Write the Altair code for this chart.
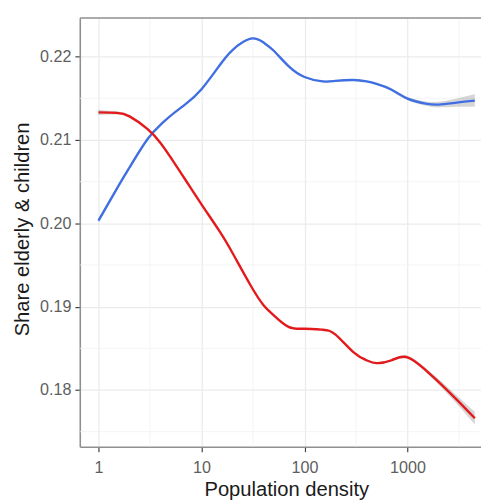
import altair as alt
import pandas as pd

# ---- data ----
density = [1, 1.5, 2, 3, 4, 5, 7, 10, 15, 20, 30, 40, 50, 70, 100, 150, 200,
           300, 400, 500, 700, 1000, 1500, 2000, 3000, 4500]
blue_share = [0.20033, 0.20411, 0.20670, 0.21012, 0.21183, 0.21290, 0.21431,
              0.21610, 0.21897, 0.22080, 0.22216, 0.22169, 0.22074, 0.21886,
              0.21756, 0.21703, 0.21709, 0.21720, 0.21703, 0.21673, 0.21603,
              0.21496, 0.21437, 0.21425, 0.21449, 0.21473]
blue_se = [0.00030, 0.00020, 0.00015, 0.00012, 0.00010, 0.00010, 0.00010,
           0.00010, 0.00010, 0.00010, 0.00010, 0.00010, 0.00010, 0.00010,
           0.00010, 0.00010, 0.00010, 0.00010, 0.00011, 0.00012, 0.00015,
           0.00019, 0.00026, 0.00034, 0.00050, 0.00075]
red_share = [0.21331, 0.21325, 0.21284, 0.21130, 0.20965, 0.20794, 0.20520,
             0.20228, 0.19903, 0.19644, 0.19254, 0.19018, 0.18900, 0.18758,
             0.18735, 0.18723, 0.18664, 0.18451, 0.18357, 0.18322, 0.18357,
             0.18393, 0.18239, 0.18098, 0.17885, 0.17661]
red_se = [0.00030, 0.00020, 0.00015, 0.00012, 0.00010, 0.00010, 0.00010,
          0.00010, 0.00010, 0.00010, 0.00010, 0.00010, 0.00010, 0.00010,
          0.00010, 0.00010, 0.00010, 0.00010, 0.00011, 0.00012, 0.00015,
          0.00019, 0.00026, 0.00034, 0.00050, 0.00075]
series_names = ["children", "elderly"]
series_colors = ["#3f6fe2", "#e3191c"]

x_major = [1, 10, 100, 1000]
x_minor = [3.1623, 31.623, 316.23, 3162.3]
y_major = [0.18, 0.19, 0.20, 0.21, 0.22]
y_minor = [0.175, 0.185, 0.195, 0.205, 0.215]

rows = []
for name, vals, se in [(series_names[0], blue_share, blue_se),
                       (series_names[1], red_share, red_se)]:
    for d, v, s in zip(density, vals, se):
        rows.append({"density": d, "share": v, "lo": v - s, "hi": v + s, "series": name})
df = pd.DataFrame(rows)

W, H = 408, 436
FONT = "Liberation Sans"

x_scale = alt.Scale(type="log", domain=[0.6586, 5163], nice=False)
y_scale = alt.Scale(domain=[0.17319, 0.22464], nice=False, zero=False)

x_axis = alt.Axis(values=x_major, format="d", title="Population density",
                  grid=True, gridColor="#ebebeb", gridWidth=1.3,
                  labelFont=FONT, labelFontSize=16.4, labelColor="#5e5e5e",
                  labelPadding=8, tickSize=5, tickColor="#444444", tickWidth=1.2,
                  domainColor="#8f8f8f", domainWidth=1.6,
                  titleFont=FONT, titleFontSize=20.5, titleFontWeight="normal",
                  titleColor="#1a1a1a", titleX=210, titleY=50,
                  titleBaseline="alphabetic", titleAlign="center")
y_axis = alt.Axis(values=y_major, format=".2f", title="Share elderly & children",
                  grid=True, gridColor="#ebebeb", gridWidth=1.3,
                  labelFont=FONT, labelFontSize=16.4, labelColor="#5e5e5e",
                  labelPadding=4, tickSize=5, tickColor="#444444", tickWidth=1.2,
                  domainColor="#8f8f8f", domainWidth=1.6,
                  titleFont=FONT, titleFontSize=20.5, titleFontWeight="normal",
                  titleColor="#1a1a1a", titleX=-52, titleY=214.5,
                  titleBaseline="alphabetic", titleAlign="center", titleAngle=270)

minor_x = alt.Chart(pd.DataFrame({"v": x_minor})).mark_rule(
    color="#f1f1f1", strokeWidth=0.8).encode(
    x=alt.X("v:Q", scale=x_scale, axis=x_axis))
minor_y = alt.Chart(pd.DataFrame({"v": y_minor})).mark_rule(
    color="#f1f1f1", strokeWidth=0.8).encode(
    y=alt.Y("v:Q", scale=y_scale, axis=y_axis))

band = alt.Chart(df).mark_area(color="#999999", opacity=0.4,
                               interpolate="natural").encode(
    x=alt.X("density:Q", scale=x_scale, axis=x_axis),
    y=alt.Y("lo:Q", scale=y_scale, axis=y_axis),
    y2="hi:Q",
    detail="series:N")

lines = alt.Chart(df).mark_line(strokeWidth=2.4, interpolate="natural").encode(
    x=alt.X("density:Q", scale=x_scale, axis=x_axis),
    y=alt.Y("share:Q", scale=y_scale, axis=y_axis),
    color=alt.Color("series:N", scale=alt.Scale(domain=series_names, range=series_colors),
                    legend=None))

top_border = alt.Chart(pd.DataFrame({"a": [0]})).mark_rule(
    color="#8f8f8f", strokeWidth=1.6).encode(
    x=alt.value(0), x2=alt.value(W), y=alt.value(0))

chart = alt.layer(minor_x, minor_y, band, lines, top_border).properties(
    width=W, height=H,
    autosize=alt.AutoSizeParams(type="none"),
    padding={"left": 73, "top": 6, "right": 0, "bottom": 52},
    background="white",
).configure_view(stroke=None)

chart.save("out.html", embed_options={"renderer": "svg", "actions": False})
